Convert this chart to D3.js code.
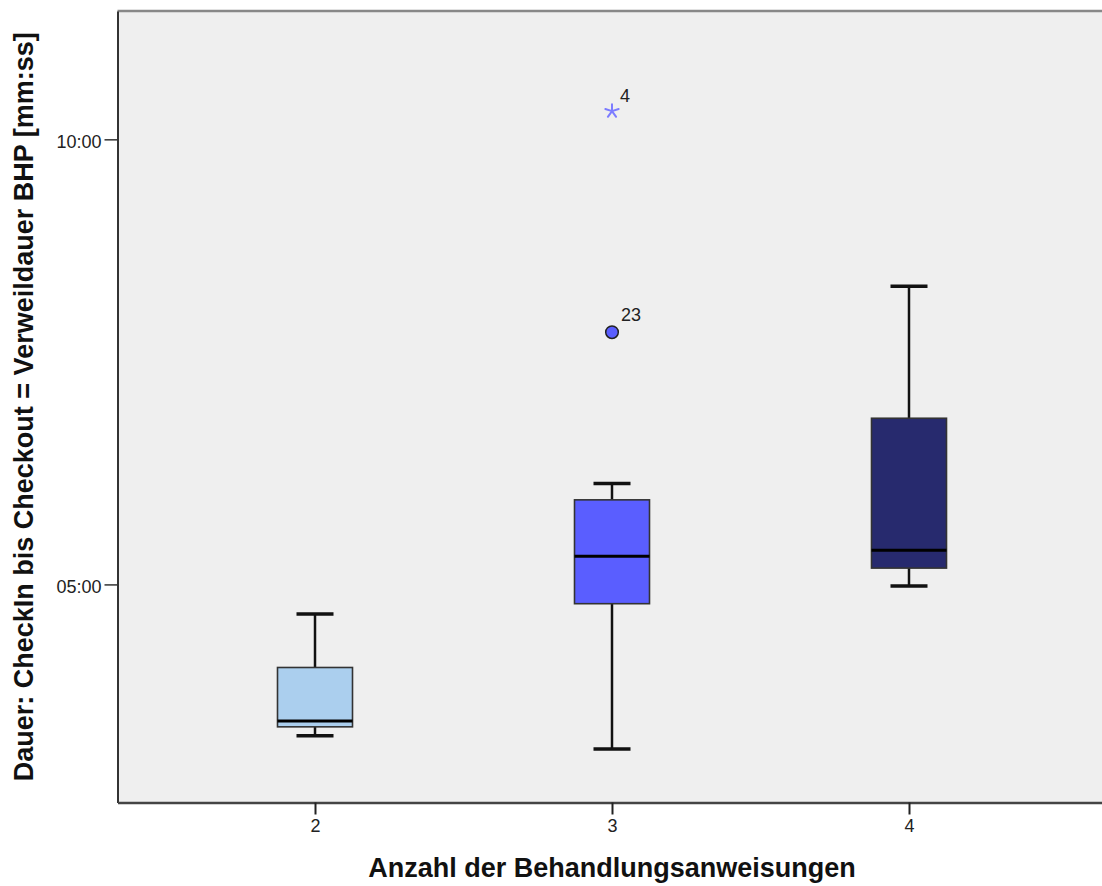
<!DOCTYPE html>
<html>
<head>
<meta charset="utf-8">
<script src="https://cdn.jsdelivr.net/npm/d3@7"></script>
<style>
  html, body { margin: 0; padding: 0; background: #ffffff; }
  svg { display: block; }
  text { font-family: "Liberation Sans", Arial, sans-serif; }
</style>
</head>
<body>
<svg id="chart" width="1102" height="886"></svg>
<script>
// Categories: number of treatment instructions
const categories = ["2", "3", "4"];

// Box plot statistics, durations in seconds
const whiskerLow  = [198, 189, 299];
const q1          = [204, 287, 311];
const medians     = [208, 319, 323];
const q3          = [244, 357, 412];
const whiskerHigh = [280, 368, 501];

// Box fill per category
const boxColors = ["#abcfee", "#5a5eff", "#272a6e"];

// Points beyond the whiskers (case numbers as labels)
const outlierCategory = ["3"];
const outlierValues   = [470];
const outlierLabels   = ["23"];
const extremeCategory = ["3"];
const extremeValues   = [619];
const extremeLabels   = ["4"];

// Y axis ticks (seconds)
const yTicks = [300, 600];

const xTitle = "Anzahl der Behandlungsanweisungen";
const yTitle = "Dauer: CheckIn bis Checkout = Verweildauer BHP [mm:ss]";

const svg = d3.select("#chart");

const plot = { left: 117.5, right: 1106.5, top: 11, bottom: 802.5 };

const x = d3.scalePoint()
  .domain(categories)
  .range([plot.left, plot.right])
  .padding(0.665);

const y = d3.scaleLinear()
  .domain([153, 686.5])
  .range([plot.bottom, plot.top]);

const fmt = s => {
  const m = Math.floor(s / 60), sec = Math.round(s % 60);
  return String(m).padStart(2, "0") + ":" + String(sec).padStart(2, "0");
};

// Plot background
svg.append("rect")
  .attr("x", plot.left).attr("y", plot.top)
  .attr("width", plot.right - plot.left)
  .attr("height", plot.bottom - plot.top)
  .attr("fill", "#efefef");

// Top frame line
svg.append("line")
  .attr("x1", plot.left).attr("x2", plot.right)
  .attr("y1", plot.top).attr("y2", plot.top)
  .attr("stroke", "#888888").attr("stroke-width", 2.5);

// Axes
const yAxis = d3.axisLeft(y).tickValues(yTicks).tickFormat(fmt)
  .tickSizeInner(13).tickSizeOuter(0).tickPadding(3);
const xAxis = d3.axisBottom(x).tickSizeInner(12).tickSizeOuter(0).tickPadding(5);

const gy = svg.append("g")
  .attr("transform", `translate(${plot.left},0)`)
  .call(yAxis);
gy.select(".domain").attr("stroke", "#333").attr("stroke-width", 2);
gy.selectAll(".tick line").attr("stroke", "#333").attr("stroke-width", 1.5);
gy.selectAll(".tick text")
  .attr("font-size", 18).attr("fill", "#222")
  .attr("font-family", "Liberation Sans, Arial, sans-serif")
  .attr("dy", "0.45em");

const gx = svg.append("g")
  .attr("transform", `translate(0,${plot.bottom})`)
  .call(xAxis);
gx.select(".domain").attr("stroke", "#444").attr("stroke-width", 2.5);
gx.selectAll(".tick line").attr("stroke", "#222").attr("stroke-width", 2);
gx.selectAll(".tick text")
  .attr("font-size", 18).attr("fill", "#222")
  .attr("font-family", "Liberation Sans, Arial, sans-serif");

// Boxes
const boxW = 75, capW = 37;
const boxes = svg.append("g");
categories.forEach((c, i) => {
  const cx = x(c);
  const g = boxes.append("g");
  // whiskers
  g.append("line")
    .attr("x1", cx).attr("x2", cx)
    .attr("y1", y(whiskerHigh[i])).attr("y2", y(q3[i]))
    .attr("stroke", "#111").attr("stroke-width", 2.5);
  g.append("line")
    .attr("x1", cx).attr("x2", cx)
    .attr("y1", y(q1[i])).attr("y2", y(whiskerLow[i]))
    .attr("stroke", "#111").attr("stroke-width", 2.5);
  // caps
  [whiskerHigh[i], whiskerLow[i]].forEach(v => {
    g.append("line")
      .attr("x1", cx - capW / 2).attr("x2", cx + capW / 2)
      .attr("y1", y(v)).attr("y2", y(v))
      .attr("stroke", "#111").attr("stroke-width", 3.5);
  });
  // box
  g.append("rect")
    .attr("x", cx - boxW / 2).attr("width", boxW)
    .attr("y", y(q3[i])).attr("height", y(q1[i]) - y(q3[i]))
    .attr("fill", boxColors[i])
    .attr("stroke", "#333").attr("stroke-width", 1.6);
  // median
  g.append("line")
    .attr("x1", cx - boxW / 2).attr("x2", cx + boxW / 2)
    .attr("y1", y(medians[i])).attr("y2", y(medians[i]))
    .attr("stroke", "#000").attr("stroke-width", 3);
});

// Outliers (circles)
outlierValues.forEach((v, i) => {
  const cx = x(outlierCategory[i]), cy = y(v);
  svg.append("circle")
    .attr("cx", cx).attr("cy", cy).attr("r", 6.3)
    .attr("fill", "#5a5eff").attr("stroke", "#222").attr("stroke-width", 1.5);
  svg.append("text")
    .attr("x", cx + 9).attr("y", cy - 11)
    .attr("font-size", 18).attr("fill", "#222")
    .text(outlierLabels[i]);
});

// Extreme values (asterisks)
extremeValues.forEach((v, i) => {
  const cx = x(extremeCategory[i]), cy = y(v);
  const p = d3.path();
  const r = 7;
  for (let k = 0; k < 5; k++) {
    const a = -Math.PI / 2 + k * 2 * Math.PI / 5;
    p.moveTo(cx, cy);
    p.lineTo(cx + r * Math.cos(a), cy + r * Math.sin(a));
  }
  svg.append("path")
    .attr("d", p.toString())
    .attr("fill", "none").attr("stroke", "#7c7cff")
    .attr("stroke-width", 2).attr("stroke-linecap", "round");
  svg.append("text")
    .attr("x", cx + 8).attr("y", cy - 9)
    .attr("font-size", 18).attr("fill", "#222")
    .text(extremeLabels[i]);
});

// Axis titles
svg.append("text")
  .attr("x", 612).attr("y", 877)
  .attr("text-anchor", "middle")
  .attr("font-size", 27).attr("font-weight", "bold").attr("fill", "#111")
  .text(xTitle);

svg.append("text")
  .attr("transform", `translate(33,${(plot.top + plot.bottom) / 2}) rotate(-90)`)
  .attr("text-anchor", "middle")
  .attr("font-size", 27).attr("font-weight", "bold").attr("fill", "#111")
  .text(yTitle);
</script>
</body>
</html>
